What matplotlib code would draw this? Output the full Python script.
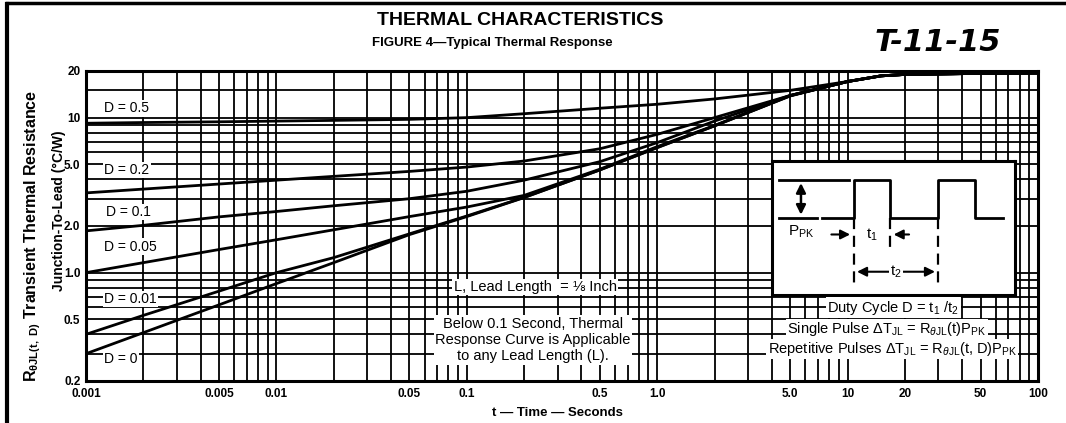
#!/usr/bin/env python3
"""Figure 4 - typical thermal response: R_thetaJL(t, D) vs pulse time, log-log."""
import matplotlib
matplotlib.use("Agg")
import matplotlib.pyplot as plt
from matplotlib.lines import Line2D
from matplotlib.ticker import FixedLocator, NullFormatter

plt.rcParams["font.family"] = ["Liberation Sans", "DejaVu Sans"]
plt.rcParams["mathtext.fontset"] = "custom"
plt.rcParams["mathtext.rm"] = "Liberation Sans"
plt.rcParams["mathtext.it"] = "Liberation Sans:italic"
plt.rcParams["mathtext.bf"] = "Liberation Sans:bold"

# time (s), shared by every curve
T = [0.001, 0.002, 0.005, 0.01, 0.02, 0.05, 0.1, 0.2, 0.5, 1.0, 2.0, 5.0, 10, 15, 20, 50, 100]

# transient thermal resistance (C/W) per duty cycle
R_D05 = [9.2, 9.3, 9.4, 9.5, 9.6, 9.75, 10.0, 10.6, 11.5, 12.2, 13.2, 15.0, 17.1, 18.6, 19.0, 19.3, 19.4]
R_D02 = [3.27, 3.46, 3.73, 3.95, 4.18, 4.5, 4.8, 5.25, 6.3, 7.8, 10.0, 13.9, 17.1, 18.6, 19.0, 19.3, 19.4]
R_D01 = [1.86, 2.02, 2.29, 2.48, 2.7, 3.0, 3.35, 3.95, 5.2, 6.9, 9.5, 13.9, 17.1, 18.6, 19.0, 19.3, 19.4]
R_D005 = [1.0, 1.16, 1.41, 1.63, 1.89, 2.3, 2.65, 3.15, 4.65, 6.5, 8.9, 13.9, 17.1, 18.6, 19.0, 19.3, 19.4]
R_D001 = [0.40, 0.53, 0.76, 1.0, 1.25, 1.78, 2.32, 3.06, 4.6, 6.42, 8.85, 13.85, 17.1, 18.6, 19.0, 19.3, 19.4]
R_D0 = [0.30, 0.41, 0.62, 0.85, 1.16, 1.76, 2.3, 3.05, 4.6, 6.4, 8.85, 13.8, 17.1, 18.6, 19.0, 19.3, 19.4]

CURVES = [R_D05, R_D02, R_D01, R_D005, R_D001, R_D0]
CURVE_LABELS = ["D = 0.5", "D = 0.2", "D = 0.1", "D = 0.05", "D = 0.01", "D = 0"]
LABEL_T = [0.00125, 0.00125, 0.00128, 0.00125, 0.00125, 0.00125]
LABEL_R = [11.5, 4.59, 2.46, 1.47, 0.676, 0.277]

X_TICKS = [0.001, 0.005, 0.01, 0.05, 0.1, 0.5, 1.0, 5.0, 10, 20, 50, 100]
X_TICK_LABELS = ["0.001", "0.005", "0.01", "0.05", "0.1", "0.5", "1.0", "5.0", "10", "20", "50", "100"]
Y_TICKS = [0.2, 0.5, 1.0, 2.0, 5.0, 10, 20]
Y_TICK_LABELS = ["0.2", "0.5", "1.0", "2.0", "5.0", "10", "20"]

# inset pulse-train sketch, in the inset's own units
PULSE_X = [245, 340, 340, 450, 450, 595, 595, 705, 705, 790]
PULSE_Y = [232, 232, 120, 120, 232, 232, 120, 120, 232, 232]


def minor_positions(lo_exp, hi_exp):
    out = []
    for e in range(lo_exp, hi_exp):
        for m in range(1, 10):
            out.append(m * 10.0 ** e)
    out.append(10.0 ** hi_exp)
    return out


def draw_inset(fig):
    ax = fig.add_axes([0.7242, 0.3026, 0.228, 0.3168])
    ax.set_xlim(95, 825)
    ax.set_ylim(465, 62)
    ax.set_xticks([])
    ax.set_yticks([])
    for s in ax.spines.values():
        s.set_linewidth(2.2)
    ax.set_facecolor("white")
    k = dict(color="black", lw=2)
    ax.plot(PULSE_X, PULSE_Y, **k)
    ax.plot([115, 325], [120, 120], **k)
    ax.plot([115, 230], [232, 232], **k)
    ax.annotate("", xy=(182, 120), xytext=(182, 232),
                arrowprops=dict(arrowstyle="<|-|>", color="black", lw=1.8, mutation_scale=14))
    ax.text(182, 275, r"P$_{\mathregular{PK}}$", fontsize=11, ha="center", va="center")
    dash = dict(color="black", lw=1.6, linestyle=(0, (5, 3)))
    ax.plot([340, 340], [232, 440], **dash)
    ax.plot([450, 450], [232, 320], **dash)
    ax.plot([595, 595], [232, 440], **dash)
    ax.annotate("", xy=(338, 283), xytext=(265, 283),
                arrowprops=dict(arrowstyle="-|>", color="black", lw=1.5, mutation_scale=14))
    ax.annotate("", xy=(452, 283), xytext=(515, 283),
                arrowprops=dict(arrowstyle="-|>", color="black", lw=1.5, mutation_scale=14))
    ax.text(395, 285, r"t$_{\mathregular{1}}$", fontsize=11, ha="center", va="center")
    ax.annotate("", xy=(342, 395), xytext=(593, 395),
                arrowprops=dict(arrowstyle="<|-|>", color="black", lw=1.5, mutation_scale=14))
    ax.text(468, 395, r"t$_{\mathregular{2}}$", fontsize=11, ha="center", va="center",
            bbox=dict(facecolor="white", edgecolor="none", pad=1))


def main():
    fig = plt.figure(figsize=(10.66, 4.23), dpi=100)
    ax = fig.add_axes([0.0807, 0.0993, 0.8930, 0.7329])
    ax.set_xscale("log")
    ax.set_yscale("log")
    ax.set_xlim(0.001, 100)
    ax.set_ylim(0.2, 20)

    ax.xaxis.set_major_locator(FixedLocator(X_TICKS))
    ax.set_xticklabels(X_TICK_LABELS)
    ax.yaxis.set_major_locator(FixedLocator(Y_TICKS))
    ax.set_yticklabels(Y_TICK_LABELS)
    ax.xaxis.set_minor_locator(FixedLocator(minor_positions(-3, 2)))
    ax.yaxis.set_minor_locator(FixedLocator(minor_positions(-1, 1) + [15]))
    ax.xaxis.set_minor_formatter(NullFormatter())
    ax.yaxis.set_minor_formatter(NullFormatter())
    ax.tick_params(which="both", length=0)
    ax.tick_params(axis="x", pad=5, labelsize=8.5)
    ax.tick_params(axis="y", pad=4, labelsize=8.5)
    for lab in ax.get_xticklabels() + ax.get_yticklabels():
        lab.set_fontweight("bold")

    ax.set_axisbelow(True)
    ax.grid(which="both", color="black", linewidth=1.3)
    for s in ax.spines.values():
        s.set_linewidth(2.2)

    for r in CURVES:
        ax.plot(T, r, color="black", lw=2.0, zorder=3, solid_capstyle="butt")
    for lab, t, r in zip(CURVE_LABELS, LABEL_T, LABEL_R):
        ax.text(t, r, lab, fontsize=10, ha="left", va="center", zorder=2,
                bbox=dict(facecolor="white", edgecolor="none", pad=1.0))

    box = dict(facecolor="white", edgecolor="none", pad=1.0)
    fig.text(0.502, 0.3215, "L, Lead Length  = \u215b Inch", fontsize=10.5,
             ha="center", va="center", bbox=box)
    fig.text(0.500, 0.196,
             "Below 0.1 Second, Thermal\nResponse Curve is Applicable\nto any Lead Length (L).",
             fontsize=10.5, ha="center", va="center", linespacing=1.2, bbox=box)
    fig.text(0.838, 0.272, r"Duty Cycle D = t$_{\mathregular{1}}$ /t$_{\mathregular{2}}$",
             fontsize=10.5, ha="center", va="center", bbox=box)
    fig.text(0.832, 0.222,
             r"Single Pulse $\Delta$T$_{\mathregular{JL}}$ = R$_{\theta\mathregular{JL}}$(t)P$_{\mathregular{PK}}$",
             fontsize=10.5, ha="center", va="center", bbox=box)
    fig.text(0.837, 0.175,
             r"Repetitive Pulses $\Delta$T$_{\mathregular{JL}}$ = R$_{\theta\mathregular{JL}}$(t, D)P$_{\mathregular{PK}}$",
             fontsize=10.5, ha="center", va="center", bbox=box)

    draw_inset(fig)

    fig.text(0.488, 0.952, "THERMAL CHARACTERISTICS", fontsize=14, fontweight="bold",
             ha="center", va="center")
    fig.text(0.462, 0.898, "FIGURE 4\u2014Typical Thermal Response", fontsize=9.5,
             fontweight="bold", ha="center", va="center")
    fig.text(0.880, 0.900, "T-11-15", fontsize=22, fontweight="heavy", style="italic",
             family="DejaVu Sans", ha="center", va="center")
    fig.text(0.031, 0.442,
             r"R$_{\mathbf{\theta JL(t,\ D)}}$ Transient Thermal Resistance",
             fontsize=11.5, fontweight="bold", rotation=90, ha="center", va="center")
    fig.text(0.055, 0.501, "Junction-To-Lead (\u00b0C/W)", fontsize=10, fontweight="bold",
             rotation=90, ha="center", va="center")
    fig.text(0.5225, 0.024, "t \u2014 Time \u2014 Seconds", fontsize=9.5, fontweight="bold",
             ha="center", va="center")

    # scanned page frame
    fig.add_artist(Line2D([0.0066, 0.0066], [0.0, 0.99], transform=fig.transFigure,
                          color="black", lw=3))
    fig.add_artist(Line2D([0.0066, 1.0], [0.992, 0.992], transform=fig.transFigure,
                          color="black", lw=2.5))

    fig.savefig("out.png", dpi=100)
    plt.close(fig)


if __name__ == "__main__":
    main()
